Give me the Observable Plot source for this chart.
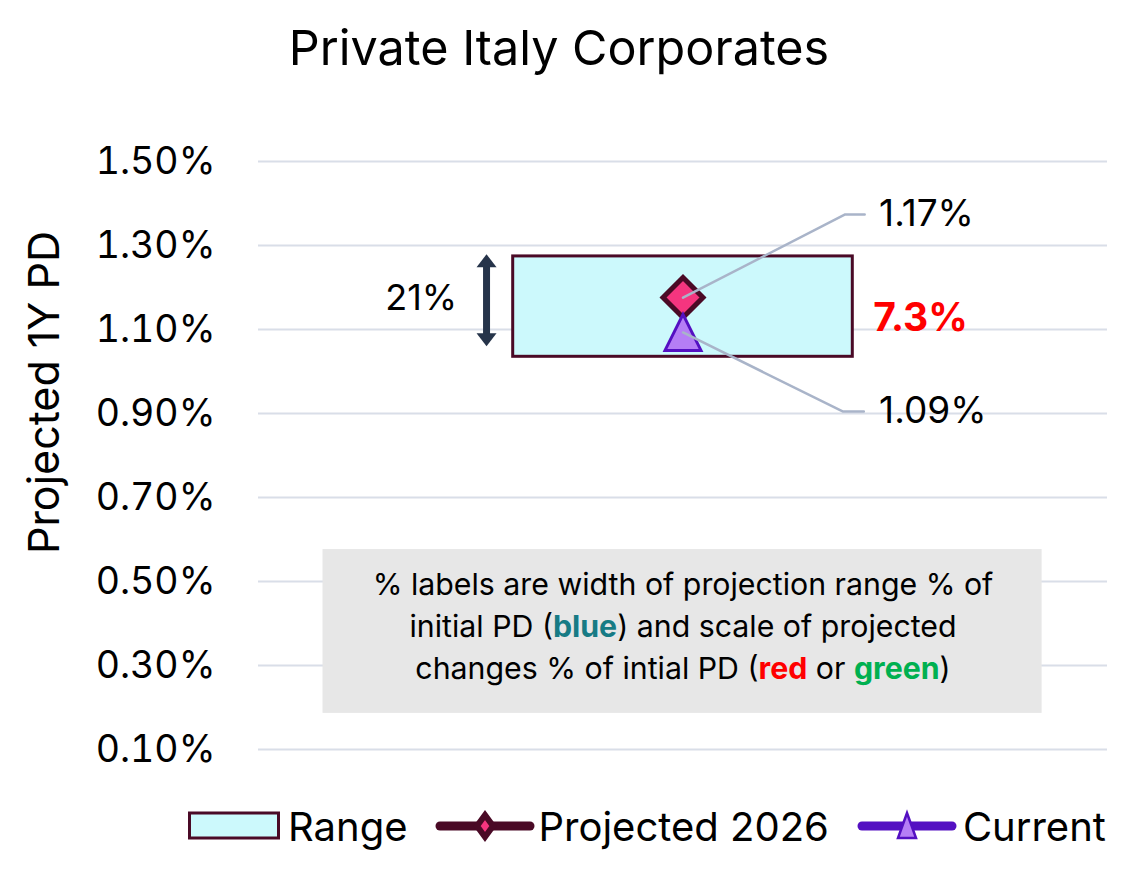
<!DOCTYPE html>
<html>
<head>
<meta charset="utf-8">
<script src="https://cdn.jsdelivr.net/npm/d3@7"></script>
<script src="https://cdn.jsdelivr.net/npm/@observablehq/plot@0.6"></script>
<style>
  html, body { margin: 0; padding: 0; background: #fff; }
  #wrap { position: relative; width: 1121px; height: 871px; font-family: Inter, "Noto Sans", sans-serif; color: #000; overflow: hidden; }
  #title { position: absolute; left: 0; width: 1118px; top: 18px; text-align: center; font-size: 48.5px; line-height: 60px; }
  #chart { position: absolute; left: 0; top: 100px; }
  #legend { position: absolute; left: 188px; top: 805px; height: 42px; display: flex; align-items: center; font-size: 40px; white-space: nowrap; }
  #legend svg { display: block; }
</style>
</head>
<body>
<div id="wrap">
  <div id="title">Private Italy Corporates</div>
  <div id="chart"></div>
  <div id="legend"></div>
</div>
<script>
// ---- data ----
const categories = ["Private Italy Corporates"];
const rangeLow = [1.035];
const rangeHigh = [1.274];
const projected2026 = [1.176];
const current = [1.093];
const projectedLabels = ["1.17%"];
const currentLabels = ["1.09%"];
const widthLabels = ["21%"];
const changeLabels = ["7.3%"];
const yTicks = [0.1, 0.3, 0.5, 0.7, 0.9, 1.1, 1.3, 1.5];
const seriesNames = ["Range", "Projected 2026", "Current"];
const yTitle = "Projected 1Y PD";
const noteLines = [
  [["% labels are width of projection range % of", null]],
  [["initial PD (", null], ["blue", "#177b85"], [") and scale of projected", null]],
  [["changes % of intial PD (", null], ["red", "#ff0000"], [" or ", null], ["green", "#00b050"], [")", null]]
];

// annotation layout (x as fraction of plot width, y in data units)
const catX = [0.5];
const boxHalfWidth = 0.2;
const leaderProj = { elbowX: 0.691, endX: 0.714, y: 1.374, labelX: 0.731 };
const leaderCur = { elbowX: 0.688, endX: 0.713, y: 0.905, labelX: 0.731 };
const arrowSpec = { x: 0.2686, top: 1.279, bottom: 1.06, labelX: 0.234, labelY: 1.174 };
const changeSpec = { x: 0.724, y: 1.126 };
const noteBox = { x1: 0.076, x2: 0.923, y1: 0.186, y2: 0.576, lineY: [0.49, 0.39, 0.292] };

// colors
const C = {
  rangeFill: "#ccf9fc", rangeStroke: "#4a0a26",
  projFill: "#f5357f", projStroke: "#4a0a26",
  curFill: "#b57ef5", curStroke: "#5410c2",
  grid: "#d9dee8", leader: "#a9b4c9", arrow: "#26344a", note: "#e7e7e7"
};

// custom symbols
const triSym = { draw(ctx, size) { const r = Math.sqrt(size / Math.PI); ctx.moveTo(0, -r); ctx.lineTo(r, r); ctx.lineTo(-r, r); ctx.closePath(); } };
const headUp = { draw(ctx) { ctx.moveTo(0, 0); ctx.lineTo(10, 13); ctx.lineTo(-10, 13); ctx.closePath(); } };
const headDown = { draw(ctx) { ctx.moveTo(0, 0); ctx.lineTo(10, -13); ctx.lineTo(-10, -13); ctx.closePath(); } };

const table = categories.map((c, i) => ({
  c, x: catX[i], x1: catX[i] - boxHalfWidth, x2: catX[i] + boxHalfWidth,
  lo: rangeLow[i], hi: rangeHigh[i], proj: projected2026[i], cur: current[i]
}));

const leaders = [];
table.forEach((d, i) => {
  leaders.push({ id: "p" + i, x: d.x, y: d.proj }, { id: "p" + i, x: leaderProj.elbowX, y: leaderProj.y }, { id: "p" + i, x: leaderProj.endX, y: leaderProj.y });
  leaders.push({ id: "c" + i, x: d.x, y: d.cur }, { id: "c" + i, x: leaderCur.elbowX, y: leaderCur.y }, { id: "c" + i, x: leaderCur.endX, y: leaderCur.y });
});

const noteTexts = noteLines.map((segs, i) => ({ t: segs.map(s => s[0]).join(""), y: noteBox.lineY[i], i }));

const plot = Plot.plot({
  width: 1121,
  height: 690,
  marginTop: 61,
  marginBottom: 41,
  marginLeft: 258,
  marginRight: 14,
  x: { domain: [0, 1], axis: null },
  y: { domain: [0.1, 1.5], axis: null },
  style: { fontFamily: "Inter, 'Noto Sans', sans-serif", color: "#000", background: "transparent", overflow: "visible" },
  marks: [
    Plot.gridY(yTicks, { stroke: C.grid, strokeOpacity: 1, strokeWidth: 2 }),
    Plot.axisY(yTicks, { tickSize: 0, tickPadding: 43, fontSize: 37.5, tickFormat: d => d.toFixed(2) + "%", label: null }),
    Plot.text([yTitle], { frameAnchor: "left", textAnchor: "middle", rotate: -90, dx: -213, dy: -63, fontSize: 43 }),
    // note box
    Plot.rect([noteBox], { x1: "x1", x2: "x2", y1: "y1", y2: "y2", fill: C.note }),
    Plot.text(noteTexts, { x: 0.5, y: "y", text: "t", fontSize: 30.3, className: "note-line" }),
    // range box
    Plot.rect(table, { x1: "x1", x2: "x2", y1: "lo", y2: "hi", fill: C.rangeFill, stroke: C.rangeStroke, strokeWidth: 3 }),
    // width arrow
    Plot.ruleX([arrowSpec], { x: "x", y1: d => d.bottom + 0.02, y2: d => d.top - 0.02, stroke: C.arrow, strokeWidth: 7 }),
    Plot.dot([arrowSpec], { x: "x", y: "top", symbol: headUp, fill: C.arrow, stroke: null }),
    Plot.dot([arrowSpec], { x: "x", y: "bottom", symbol: headDown, fill: C.arrow, stroke: null }),
    Plot.text(widthLabels, { x: arrowSpec.labelX, y: arrowSpec.labelY, text: d => d, textAnchor: "end", fontSize: 36 }),
    // markers
    Plot.dot(table, { x: "x", y: "proj", symbol: "diamond2", r: 18, fill: C.projFill, stroke: C.projStroke, strokeWidth: 5 }),
    Plot.dot(table, { x: "x", y: "cur", symbol: triSym, r: 18, fill: C.curFill, stroke: C.curStroke, strokeWidth: 3 }),
    // leader lines & labels
    Plot.line(leaders, { x: "x", y: "y", z: "id", stroke: C.leader, strokeWidth: 2.5 }),
    Plot.text(projectedLabels, { x: leaderProj.labelX, y: leaderProj.y, text: d => d, textAnchor: "start", fontSize: 37 }),
    Plot.text(currentLabels, { x: leaderCur.labelX, y: leaderCur.y, text: d => d, textAnchor: "start", fontSize: 37 }),
    Plot.text(changeLabels, { x: changeSpec.x, y: changeSpec.y, text: d => d, textAnchor: "start", fontSize: 39, fontWeight: 700, fill: "#ff0000" })
  ]
});
document.getElementById("chart").appendChild(plot);

// rich text for note lines
d3.select(plot).selectAll(".note-line text").each(function (d, k) {
  const segs = noteLines[k];
  const sel = d3.select(this);
  sel.text(null);
  segs.forEach(([t, col]) => {
    const ts = sel.append("tspan").text(t);
    if (col) ts.attr("fill", col).attr("font-weight", 700);
  });
});

// legend
const legend = d3.select("#legend");
function item(svgW, draw, label, gapBefore, gapText) {
  const s = legend.append("svg").attr("width", svgW).attr("height", 42).style("margin-left", gapBefore + "px");
  draw(s);
  legend.append("span").text(label).style("margin-left", gapText + "px");
}
item(92, s => s.append("rect").attr("x", 1.5).attr("y", 8).attr("width", 89).attr("height", 25)
  .attr("fill", C.rangeFill).attr("stroke", C.rangeStroke).attr("stroke-width", 3), seriesNames[0], 0, 8);
item(100, s => {
  s.append("line").attr("x1", 5).attr("x2", 95).attr("y1", 21).attr("y2", 21).attr("stroke", C.projStroke).attr("stroke-width", 9).attr("stroke-linecap", "round");
  s.append("path").attr("d", "M50,10L58,21L50,32L42,21Z").attr("fill", C.projFill).attr("stroke", C.projStroke).attr("stroke-width", 6);
}, seriesNames[1], 27, 4);
item(100, s => {
  s.append("line").attr("x1", 5).attr("x2", 95).attr("y1", 21).attr("y2", 21).attr("stroke", C.curStroke).attr("stroke-width", 9).attr("stroke-linecap", "round");
  s.append("path").attr("d", "M50,8L59,33L41,33Z").attr("fill", C.curFill).attr("stroke", C.curStroke).attr("stroke-width", 2.5);
}, seriesNames[2], 28, 6);
</script>
</body>
</html>
